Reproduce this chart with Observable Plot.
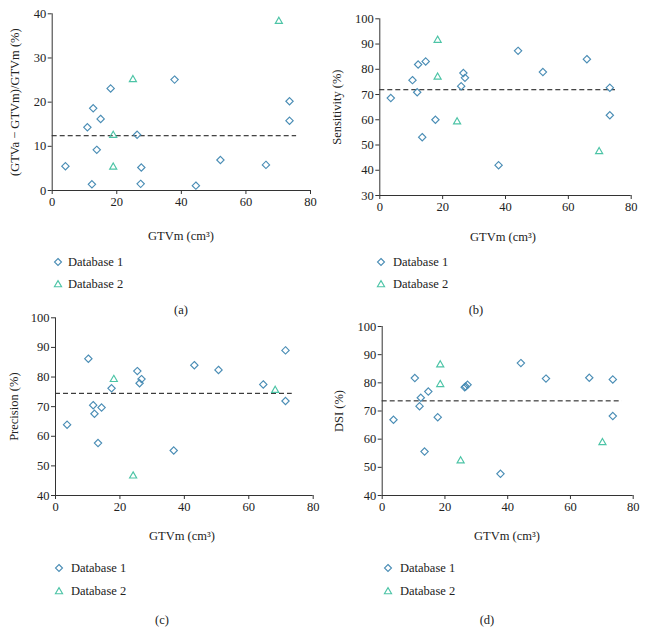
<!DOCTYPE html>
<html>
<head>
<meta charset="utf-8">
<script src="https://cdn.jsdelivr.net/npm/d3@7"></script>
<script src="https://cdn.jsdelivr.net/npm/@observablehq/plot@0.6"></script>
<style>
  html, body { margin: 0; padding: 0; background: #fff; }
  #root { position: relative; width: 647px; height: 627px; background: #fff; font-family: "Liberation Serif", "DejaVu Serif", serif; color: #222; }
  .panel { position: absolute; }
  .txt { position: absolute; font-size: 12.5px; white-space: nowrap; line-height: 1; }
  .ctr { transform: translate(-50%, -50%); }
  .lft { transform: translate(0, -50%); }
  .mk { position: absolute; transform: translate(-50%, -50%); }
</style>
</head>
<body>
<div id="root"></div>
<script>
// ---------- data ----------
const xTicks = [0, 20, 40, 60, 80];
const seriesNames = ["Database 1", "Database 2"];
const xLabel = "GTVm (cm³)";

// (a) relative volume difference
const aLabel = "(GTVa − GTVm)/GTVm (%)";
const aYTicks = [0, 10, 20, 30, 40];
const aDb1X = [4.1, 12.3, 12.7, 10.9, 13.8, 15.0, 18.1, 26.3, 27.6, 27.4, 37.9, 44.5, 52.1, 66.2, 73.5, 73.5];
const aDb1Y = [5.5, 1.4, 18.6, 14.3, 9.2, 16.2, 23.1, 12.6, 5.2, 1.5, 25.1, 1.1, 6.9, 5.8, 20.2, 15.8];
const aDb2X = [18.9, 18.9, 25.0, 70.2];
const aDb2Y = [12.5, 5.3, 25.1, 38.3];
const aMean = 12.4, aMeanEnd = 75.7;

// (b) sensitivity
const bLabel = "Sensitivity (%)";
const bYTicks = [30, 40, 50, 60, 70, 80, 90, 100];
const bDb1X = [3.5, 10.4, 12.2, 11.9, 13.5, 14.6, 17.7, 25.9, 26.6, 27.1, 37.8, 44.0, 51.9, 65.9, 73.2, 73.2];
const bDb1Y = [68.6, 75.7, 81.9, 70.9, 53.1, 83.1, 60.0, 73.3, 78.5, 76.6, 42.0, 87.3, 78.9, 84.0, 72.7, 61.8];
const bDb2X = [18.4, 18.4, 24.6, 69.8];
const bDb2Y = [91.5, 76.9, 59.2, 47.4];
const bMean = 71.9, bMeanEnd = 75.0;

// (c) precision
const cLabel = "Precision (%)";
const cYTicks = [40, 50, 60, 70, 80, 90, 100];
const cDb1X = [3.6, 10.2, 11.7, 12.1, 13.2, 14.3, 17.4, 25.4, 26.1, 26.7, 36.7, 43.1, 50.6, 64.5, 71.4, 71.4];
const cDb1Y = [63.9, 86.2, 70.5, 67.6, 57.7, 69.7, 76.2, 82.0, 77.9, 79.3, 55.2, 84.0, 82.4, 77.5, 89.0, 71.9];
const cDb2X = [18.1, 24.1, 68.2];
const cDb2Y = [79.2, 46.6, 75.5];
const cMean = 74.5, cMeanEnd = 73.5;

// (d) DSI
const dLabel = "DSI (%)";
const dYTicks = [40, 50, 60, 70, 80, 90, 100];
const dDb1X = [3.6, 10.4, 12.3, 11.9, 13.5, 14.7, 17.7, 26.3, 26.6, 27.2, 37.7, 44.2, 52.2, 66.0, 73.5, 73.5];
const dDb1Y = [66.9, 81.7, 74.7, 71.7, 55.6, 76.9, 67.8, 78.4, 78.7, 79.3, 47.7, 87.0, 81.5, 81.8, 81.2, 68.2];
const dDb2X = [18.5, 18.5, 25.0, 70.2];
const dDb2Y = [86.4, 79.4, 52.3, 58.8];
const dMean = 73.6, dMeanEnd = 76.5;

// ---------- styling / layout ----------
const C1 = "#4a8db5";
const C2 = "#4cc4a6";
const FONT = "'Liberation Serif', 'DejaVu Serif', serif";

const panels = [
  { tag: "(a)", left: 0, top: 0, width: 320, height: 215, mL: 51.7, mR: 10, mT: 13.3, mB: 25, label: aLabel, labelOffset: 42,
    yTicks: aYTicks, db1x: aDb1X, db1y: aDb1Y, db2x: aDb2X, db2y: aDb2Y, mean: aMean, meanEnd: aMeanEnd,
    xl: [181, 236], leg: [58, 68, 262, 284], cap: [181, 310] },
  { tag: "(b)", left: 320, top: 0, width: 327, height: 220, mL: 59.3, mR: 16.3, mT: 18.3, mB: 25, label: bLabel, labelOffset: 48,
    yTicks: bYTicks, db1x: bDb1X, db1y: bDb1Y, db2x: bDb2X, db2y: bDb2Y, mean: bMean, meanEnd: bMeanEnd,
    xl: [503, 237], leg: [381, 393, 262, 284], cap: [476, 310] },
  { tag: "(c)", left: 0, top: 300, width: 320, height: 220, mL: 55, mR: 7.3, mT: 17.3, mB: 25, label: cLabel, labelOffset: 46,
    yTicks: cYTicks, db1x: cDb1X, db1y: cDb1Y, db2x: cDb2X, db2y: cDb2Y, mean: cMean, meanEnd: cMeanEnd,
    xl: [182, 536], leg: [59, 71, 568, 591], cap: [162, 620] },
  { tag: "(d)", left: 320, top: 300, width: 327, height: 220, mL: 61.7, mR: 14.3, mT: 26, mB: 25, label: dLabel, labelOffset: 48,
    yTicks: dYTicks, db1x: dDb1X, db1y: dDb1Y, db2x: dDb2X, db2y: dDb2Y, mean: dMean, meanEnd: dMeanEnd,
    xl: [507, 536], leg: [388, 400, 568, 591], cap: [487, 620] }
];

const root = document.getElementById("root");

function addText(text, x, y, cls) {
  const d = document.createElement("div");
  d.className = "txt " + cls;
  d.style.left = x + "px";
  d.style.top = y + "px";
  d.textContent = text;
  root.appendChild(d);
}

function addMarker(kind, color, x, y) {
  const ns = "http://www.w3.org/2000/svg";
  const s = document.createElementNS(ns, "svg");
  s.setAttribute("width", 12);
  s.setAttribute("height", 12);
  s.setAttribute("class", "mk");
  s.style.left = x + "px";
  s.style.top = y + "px";
  const p = document.createElementNS(ns, "path");
  p.setAttribute("d", kind === "diamond" ? "M6,2.5 L9.5,6 L6,9.5 L2.5,6 Z" : "M6,2.6 L9.6,8.8 L2.4,8.8 Z");
  p.setAttribute("fill", "none");
  p.setAttribute("stroke", color);
  p.setAttribute("stroke-width", 1.1);
  s.appendChild(p);
  root.appendChild(s);
}

for (const p of panels) {
  const db1 = p.db1x.map((x, i) => ({ x, y: p.db1y[i] }));
  const db2 = p.db2x.map((x, i) => ({ x, y: p.db2y[i] }));
  const yDomain = [p.yTicks[0], p.yTicks[p.yTicks.length - 1]];
  const chart = Plot.plot({
    width: p.width,
    height: p.height,
    marginLeft: p.mL,
    marginRight: p.mR,
    marginTop: p.mT,
    marginBottom: p.mB,
    style: { fontFamily: FONT, fontSize: "12.5px", color: "#222", background: "transparent", overflow: "visible" },
    x: { domain: [0, 80] },
    y: { domain: yDomain },
    marks: [
      Plot.ruleY([p.mean], { x1: 0, x2: p.meanEnd, stroke: "#111", strokeWidth: 1, strokeDasharray: "5,3" }),
      Plot.dot(db1, { x: "x", y: "y", symbol: "diamond2", r: 3.3, stroke: C1, strokeWidth: 1.15 }),
      Plot.dot(db2, { x: "x", y: "y", symbol: "triangle2", r: 3.4, stroke: C2, strokeWidth: 1.15 }),
      Plot.ruleX([0], { stroke: "#333" }),
      Plot.ruleY([yDomain[0]], { stroke: "#333" }),
      Plot.axisX({ ticks: xTicks, tickSize: 4, tickPadding: 3, label: null, stroke: "#333" }),
      Plot.axisY({ ticks: p.yTicks, tickSize: 4, tickPadding: 2, label: p.label, labelAnchor: "center", labelOffset: p.labelOffset, labelArrow: "none", stroke: "#333" })
    ]
  });
  const wrap = document.createElement("div");
  wrap.className = "panel";
  wrap.style.left = p.left + "px";
  wrap.style.top = p.top + "px";
  wrap.appendChild(chart);
  root.appendChild(wrap);

  addText(xLabel, p.xl[0], p.xl[1], "ctr");
  addMarker("diamond", C1, p.leg[0], p.leg[2]);
  addText(seriesNames[0], p.leg[1], p.leg[2], "lft");
  addMarker("triangle", C2, p.leg[0], p.leg[3]);
  addText(seriesNames[1], p.leg[1], p.leg[3], "lft");
  addText(p.tag, p.cap[0], p.cap[1], "ctr");
}
</script>
</body>
</html>
